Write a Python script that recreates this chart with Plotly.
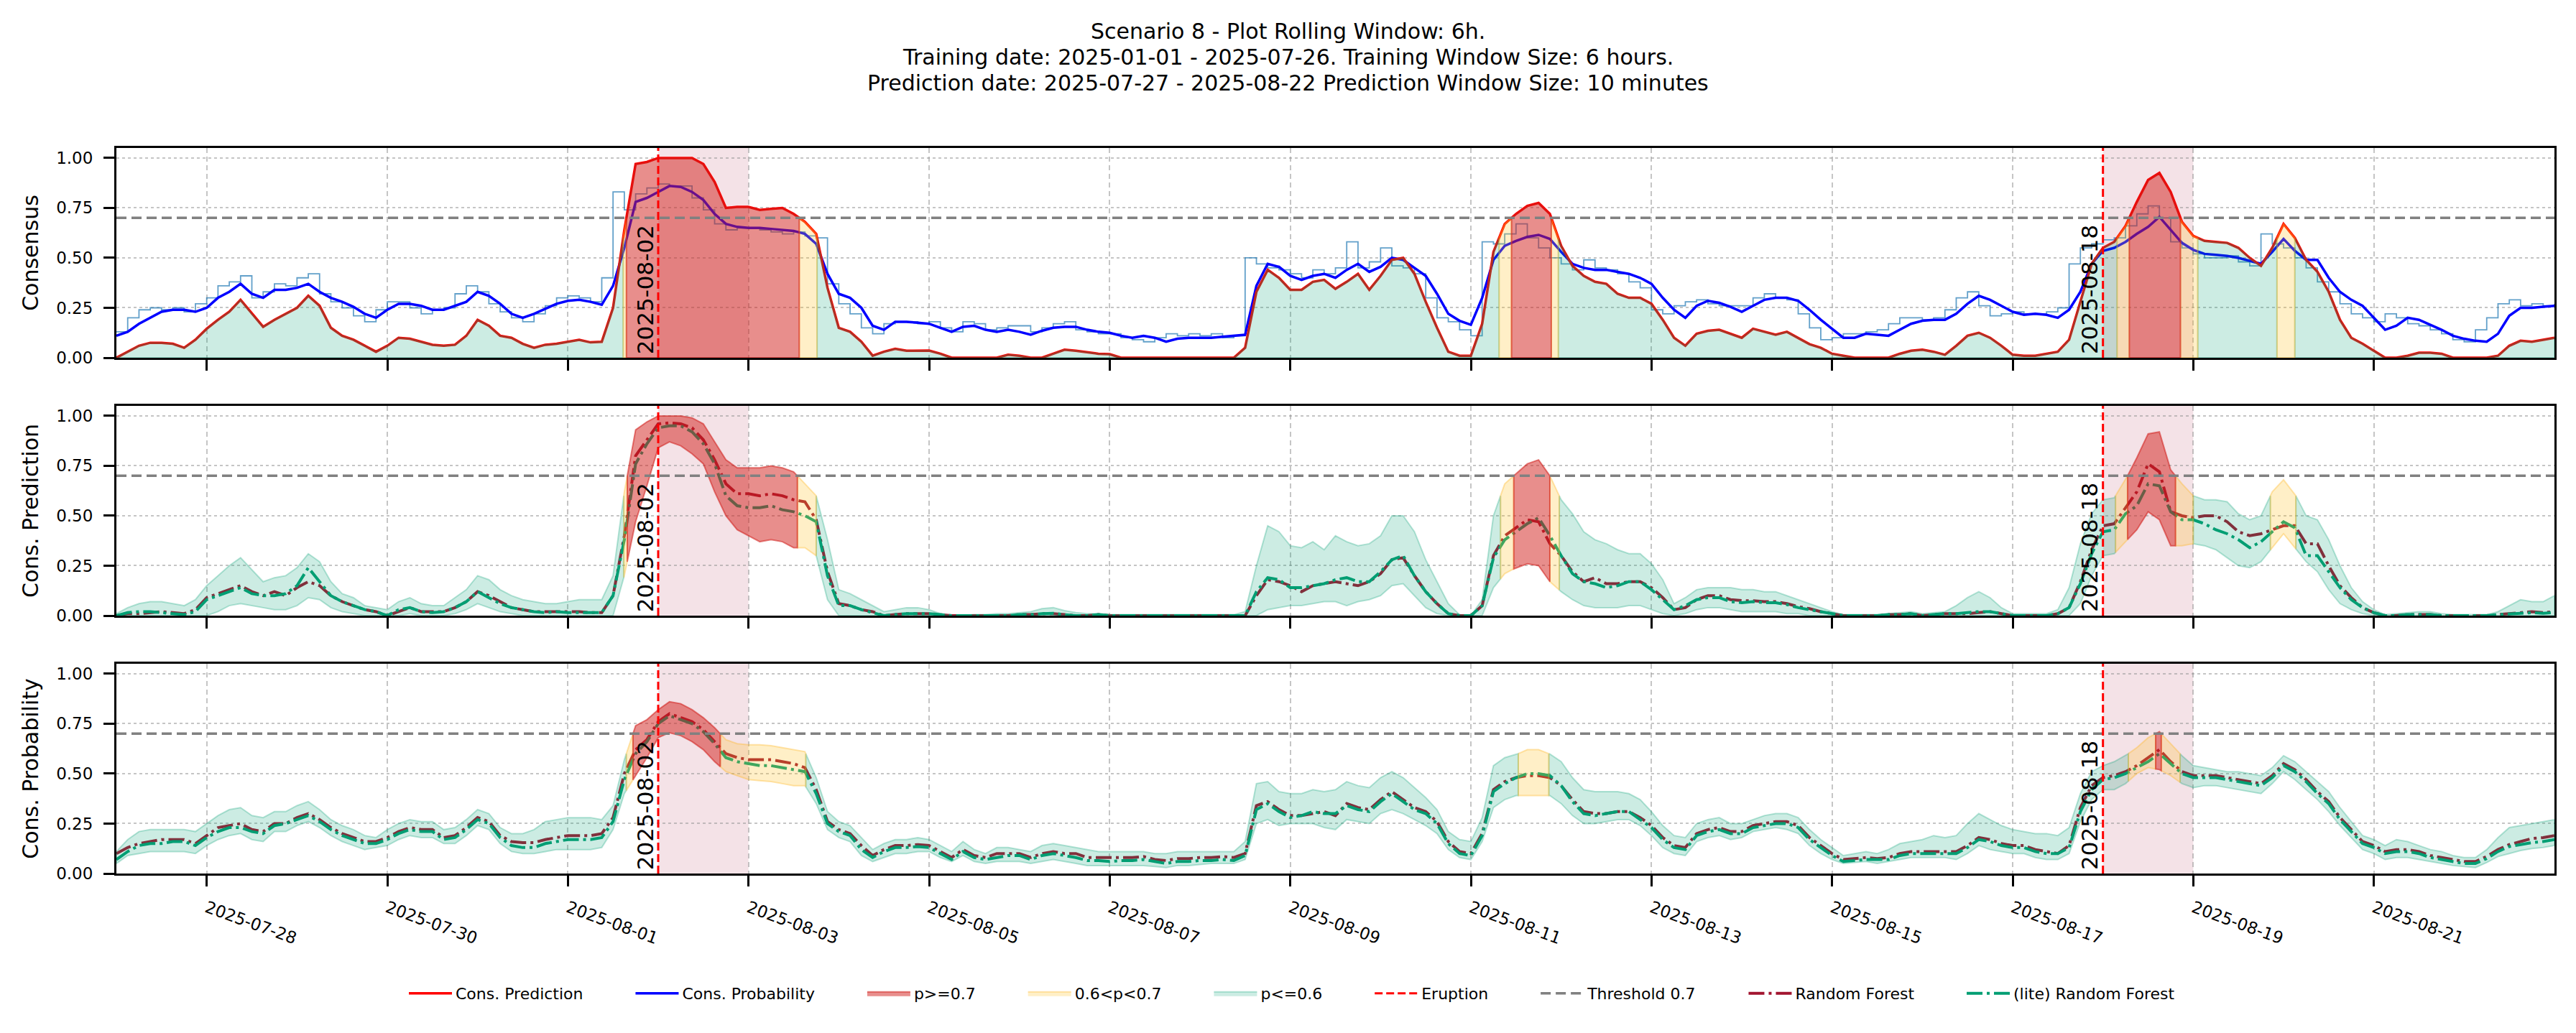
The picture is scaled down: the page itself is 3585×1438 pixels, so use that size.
import pandas as pd
import plotly.graph_objects as go
from plotly.subplots import make_subplots

# ---------------- data ----------------
START = "2025-07-27 00:00"
STEP_HOURS = 3
X_END = "2025-08-23 00:00"
ERUPTIONS = ["2025-08-02", "2025-08-18"]
THRESHOLD = 0.7
MID_LEVEL = 0.6
TICK_DATES = ["2025-07-28", "2025-07-30", "2025-08-01", "2025-08-03", "2025-08-05", "2025-08-07",
              "2025-08-09", "2025-08-11", "2025-08-13", "2025-08-15", "2025-08-17", "2025-08-19", "2025-08-21"]
Y_TICKS = [0.0, 0.25, 0.5, 0.75, 1.0]
Y_TITLES = ["Consensus", "Cons. Prediction", "Cons. Probability"]
TITLE_LINES = ["Scenario 8 - Plot Rolling Window: 6h.",
               "Training date: 2025-01-01 - 2025-07-26. Training Window Size: 6 hours.",
               "Prediction date: 2025-07-27 - 2025-08-22 Prediction Window Size: 10 minutes"]

# Panel 1 (3-hourly samples, one row per day)
cons_pred = [
    0.0, 0.03, 0.06, 0.075, 0.075, 0.07, 0.05, 0.09,
    0.145, 0.19, 0.23, 0.29, 0.22, 0.155, 0.19, 0.22,
    0.25, 0.31, 0.26, 0.15, 0.11, 0.09, 0.06, 0.03,
    0.06, 0.10, 0.095, 0.08, 0.065, 0.06, 0.065, 0.11,
    0.19, 0.16, 0.11, 0.10, 0.07, 0.05, 0.065, 0.07,
    0.08, 0.09, 0.077, 0.08, 0.25, 0.64, 0.97, 0.98,
    1.0, 1.0, 1.0, 1.0, 0.97, 0.88, 0.75, 0.755,
    0.755, 0.74, 0.745, 0.75, 0.72, 0.68, 0.62, 0.35,
    0.15, 0.13, 0.08, 0.01, 0.03, 0.045, 0.035, 0.035,
    0.036, 0.02, 0.0, 0.0, 0.0, 0.0, 0.0, 0.015,
    0.01, 0.0, 0.0, 0.02, 0.04, 0.035, 0.027, 0.02,
    0.018, 0.0, 0.0, 0.0, 0.0, 0.0, 0.0, 0.0,
    0.0, 0.0, 0.0, 0.0, 0.05, 0.33, 0.44, 0.40,
    0.34, 0.34, 0.38, 0.39, 0.345, 0.38, 0.42, 0.34,
    0.41, 0.49, 0.50, 0.42, 0.28, 0.15, 0.03, 0.01,
    0.01, 0.17, 0.53, 0.67, 0.72, 0.76, 0.775, 0.72,
    0.56, 0.46, 0.41, 0.38, 0.37, 0.32, 0.30, 0.30,
    0.27, 0.19, 0.10, 0.06, 0.12, 0.135, 0.14, 0.12,
    0.10, 0.145, 0.13, 0.115, 0.13, 0.10, 0.068, 0.05,
    0.02, 0.01, 0.0, 0.0, 0.0, 0.0, 0.02, 0.035,
    0.04, 0.03, 0.015, 0.06, 0.11, 0.125, 0.10, 0.06,
    0.015, 0.01, 0.01, 0.02, 0.03, 0.09, 0.28, 0.47,
    0.55, 0.58, 0.66, 0.78, 0.89, 0.925, 0.83, 0.68,
    0.61, 0.585, 0.58, 0.575, 0.55, 0.50, 0.46, 0.55,
    0.67, 0.60, 0.49, 0.43, 0.33, 0.19, 0.10, 0.07,
    0.035, 0.0, 0.0, 0.01, 0.025, 0.025, 0.02, 0.0,
    0.0, 0.0, 0.0, 0.01, 0.06, 0.085, 0.08, 0.09,
    0.10]

cons_prob = [
    0.11, 0.13, 0.17, 0.20, 0.23, 0.24, 0.24, 0.23,
    0.25, 0.30, 0.33, 0.37, 0.32, 0.30, 0.34, 0.34,
    0.35, 0.37, 0.33, 0.30, 0.28, 0.255, 0.22, 0.20,
    0.24, 0.27, 0.27, 0.26, 0.24, 0.24, 0.26, 0.28,
    0.33, 0.31, 0.27, 0.22, 0.20, 0.22, 0.245, 0.27,
    0.285, 0.29, 0.28, 0.265, 0.36, 0.55, 0.78, 0.80,
    0.83, 0.86, 0.855, 0.83, 0.79, 0.72, 0.67, 0.655,
    0.65, 0.65, 0.645, 0.64, 0.635, 0.62, 0.57, 0.42,
    0.32, 0.30, 0.25, 0.16, 0.14, 0.18, 0.18, 0.175,
    0.17, 0.15, 0.13, 0.155, 0.16, 0.14, 0.13, 0.14,
    0.13, 0.115, 0.135, 0.15, 0.155, 0.155, 0.14, 0.13,
    0.125, 0.11, 0.10, 0.11, 0.10, 0.08, 0.095, 0.10,
    0.10, 0.10, 0.105, 0.11, 0.115, 0.36, 0.47, 0.455,
    0.41, 0.39, 0.41, 0.42, 0.40, 0.44, 0.47, 0.43,
    0.455, 0.50, 0.49, 0.45, 0.41, 0.32, 0.22, 0.185,
    0.165, 0.30, 0.49, 0.56, 0.585, 0.605, 0.615, 0.595,
    0.53, 0.47, 0.45, 0.44, 0.44, 0.43, 0.42, 0.40,
    0.37, 0.30, 0.24, 0.20, 0.26, 0.285, 0.275, 0.255,
    0.23, 0.26, 0.29, 0.30, 0.30, 0.285, 0.24, 0.19,
    0.145, 0.10, 0.10, 0.12, 0.115, 0.11, 0.14, 0.17,
    0.185, 0.19, 0.19, 0.22, 0.27, 0.31, 0.29, 0.26,
    0.23, 0.215, 0.22, 0.215, 0.20, 0.24, 0.33, 0.47,
    0.535, 0.55, 0.58, 0.62, 0.655, 0.705, 0.64, 0.575,
    0.54, 0.52, 0.515, 0.51, 0.50, 0.485, 0.47, 0.53,
    0.595, 0.535, 0.49, 0.49, 0.40, 0.33, 0.29, 0.26,
    0.20, 0.14, 0.16, 0.20, 0.19, 0.165, 0.14, 0.11,
    0.095, 0.085, 0.08, 0.12, 0.21, 0.25, 0.25, 0.255,
    0.26]

cons_raw = [
    0.13, 0.20, 0.24, 0.25, 0.24, 0.25, 0.23, 0.27,
    0.30, 0.36, 0.38, 0.41, 0.30, 0.33, 0.37, 0.36,
    0.40, 0.42, 0.32, 0.28, 0.25, 0.21, 0.18, 0.24,
    0.28, 0.28, 0.25, 0.22, 0.24, 0.25, 0.32, 0.36,
    0.33, 0.27, 0.23, 0.20, 0.18, 0.22, 0.26, 0.30,
    0.31, 0.30, 0.28, 0.40, 0.83, 0.74, 0.82, 0.85,
    0.87, 0.86, 0.86, 0.80, 0.74, 0.67, 0.64, 0.65,
    0.65, 0.64, 0.63, 0.62, 0.63, 0.61, 0.60, 0.37,
    0.27, 0.22, 0.15, 0.12, 0.17, 0.18, 0.18, 0.17,
    0.18, 0.15, 0.13, 0.18, 0.17, 0.14, 0.15, 0.16,
    0.16, 0.13, 0.15, 0.17, 0.18, 0.14, 0.13, 0.12,
    0.12, 0.10, 0.09, 0.08, 0.10, 0.12, 0.11, 0.12,
    0.11, 0.12, 0.10, 0.11, 0.50, 0.47, 0.45, 0.44,
    0.42, 0.40, 0.44, 0.42, 0.45, 0.58, 0.45, 0.48,
    0.55, 0.46, 0.45, 0.42, 0.30, 0.20, 0.18, 0.14,
    0.11, 0.58, 0.57, 0.62, 0.67, 0.60, 0.55, 0.50,
    0.47, 0.44, 0.49, 0.45, 0.44, 0.42, 0.38, 0.35,
    0.24, 0.22, 0.26, 0.28, 0.29, 0.27, 0.26, 0.26,
    0.26, 0.30, 0.32, 0.30, 0.29, 0.22, 0.15, 0.09,
    0.10, 0.12, 0.12, 0.13, 0.14, 0.17, 0.20, 0.20,
    0.19, 0.20, 0.24, 0.30, 0.33, 0.26, 0.21, 0.22,
    0.23, 0.22, 0.22, 0.23, 0.25, 0.47, 0.55, 0.57,
    0.59, 0.60, 0.66, 0.72, 0.76, 0.70, 0.58, 0.55,
    0.52, 0.50, 0.50, 0.51, 0.48, 0.46, 0.62, 0.57,
    0.55, 0.50, 0.45, 0.38, 0.33, 0.27, 0.22, 0.20,
    0.18, 0.22, 0.20, 0.17, 0.16, 0.14, 0.12, 0.09,
    0.08, 0.14, 0.20, 0.27, 0.29, 0.26, 0.27, 0.26,
    0.27]

# Panel 2: predictions
rf_pred = [
    0.0, 0.01, 0.01, 0.015, 0.02, 0.015, 0.01, 0.03,
    0.09, 0.11, 0.13, 0.15, 0.12, 0.10, 0.12, 0.10,
    0.14, 0.17, 0.15, 0.10, 0.07, 0.05, 0.03, 0.02,
    0.0, 0.02, 0.04, 0.02, 0.02, 0.02, 0.04, 0.07,
    0.12, 0.10, 0.07, 0.04, 0.03, 0.02, 0.02, 0.02,
    0.02, 0.02, 0.015, 0.015, 0.10, 0.40, 0.80, 0.88,
    0.96, 0.965, 0.96, 0.94, 0.88, 0.78, 0.66, 0.61,
    0.61, 0.60, 0.61, 0.60, 0.58, 0.57, 0.48, 0.22,
    0.06, 0.05, 0.03, 0.02, 0.0, 0.005, 0.01, 0.01,
    0.01, 0.005, 0.0, 0.0, 0.0, 0.0, 0.0, 0.0,
    0.005, 0.005, 0.01, 0.01, 0.005, 0.0, 0.0, 0.005,
    0.0, 0.0, 0.0, 0.0, 0.0, 0.0, 0.0, 0.0,
    0.0, 0.0, 0.0, 0.0, 0.0, 0.10, 0.18, 0.17,
    0.15, 0.12, 0.15, 0.16, 0.17, 0.16, 0.15, 0.17,
    0.21, 0.28, 0.29, 0.20, 0.12, 0.06, 0.01, 0.0,
    0.0, 0.05, 0.30, 0.40, 0.44, 0.48, 0.47, 0.36,
    0.30, 0.22, 0.17, 0.19, 0.16, 0.16, 0.17, 0.17,
    0.14, 0.09, 0.03, 0.04, 0.08, 0.10, 0.10, 0.08,
    0.075, 0.075, 0.07, 0.07, 0.06, 0.045, 0.035, 0.02,
    0.01, 0.0, 0.0, 0.0, 0.0, 0.005, 0.005, 0.01,
    0.0, 0.005, 0.01, 0.01, 0.01, 0.015, 0.02, 0.01,
    0.0, 0.0, 0.0, 0.0, 0.01, 0.04, 0.17, 0.33,
    0.45, 0.46, 0.54, 0.62, 0.76, 0.72, 0.52, 0.50,
    0.49, 0.50, 0.50, 0.47, 0.42, 0.40, 0.41, 0.43,
    0.45, 0.45, 0.36, 0.36, 0.25, 0.15, 0.09, 0.04,
    0.015, 0.0, 0.0, 0.005, 0.005, 0.005, 0.0, 0.0,
    0.0, 0.0, 0.0, 0.005, 0.01, 0.015, 0.02, 0.015,
    0.02]

lite_pred = [
    0.0, 0.015, 0.02, 0.02, 0.015, 0.01, 0.005, 0.02,
    0.08, 0.10, 0.12, 0.14, 0.11, 0.10, 0.10, 0.11,
    0.15, 0.24, 0.17, 0.10, 0.07, 0.05, 0.03, 0.02,
    0.0, 0.03, 0.04, 0.02, 0.015, 0.02, 0.04, 0.07,
    0.12, 0.09, 0.06, 0.04, 0.03, 0.02, 0.015, 0.02,
    0.015, 0.015, 0.015, 0.015, 0.10, 0.38, 0.76, 0.86,
    0.94, 0.95, 0.95, 0.92, 0.86, 0.76, 0.60, 0.55,
    0.54, 0.54, 0.55, 0.53, 0.52, 0.50, 0.47, 0.20,
    0.05, 0.05, 0.03, 0.015, 0.0, 0.005, 0.01, 0.01,
    0.01, 0.005, 0.0, 0.0, 0.0, 0.0, 0.0, 0.0,
    0.005, 0.005, 0.01, 0.012, 0.005, 0.0, 0.0, 0.005,
    0.0, 0.0, 0.0, 0.0, 0.0, 0.0, 0.0, 0.0,
    0.0, 0.0, 0.0, 0.0, 0.0, 0.12, 0.19, 0.18,
    0.14, 0.14, 0.15, 0.16, 0.18, 0.19, 0.17, 0.17,
    0.22, 0.28, 0.30, 0.20, 0.12, 0.06, 0.01, 0.0,
    0.0, 0.05, 0.29, 0.38, 0.42, 0.46, 0.49, 0.40,
    0.30, 0.21, 0.17, 0.16, 0.14, 0.15, 0.17, 0.17,
    0.13, 0.08, 0.03, 0.05, 0.08, 0.09, 0.09, 0.07,
    0.065, 0.07, 0.065, 0.065, 0.055, 0.04, 0.03, 0.02,
    0.01, 0.0, 0.0, 0.0, 0.0, 0.005, 0.005, 0.01,
    0.0, 0.005, 0.01, 0.01, 0.015, 0.02, 0.02, 0.01,
    0.0, 0.0, 0.0, 0.0, 0.01, 0.04, 0.16, 0.31,
    0.42, 0.43, 0.51, 0.55, 0.66, 0.65, 0.52, 0.48,
    0.48, 0.46, 0.43, 0.41, 0.38, 0.34, 0.37, 0.42,
    0.47, 0.44, 0.30, 0.30, 0.22, 0.14, 0.08, 0.04,
    0.015, 0.0, 0.0, 0.005, 0.005, 0.005, 0.0, 0.0,
    0.0, 0.0, 0.0, 0.005, 0.01, 0.012, 0.015, 0.012,
    0.015]

pred_hi = [
    0.01, 0.04, 0.06, 0.07, 0.07, 0.06, 0.05, 0.08,
    0.15, 0.20, 0.25, 0.29, 0.23, 0.17, 0.19, 0.20,
    0.24, 0.31, 0.27, 0.17, 0.11, 0.09, 0.05, 0.04,
    0.03, 0.07, 0.09, 0.06, 0.05, 0.05, 0.09, 0.13,
    0.20, 0.18, 0.13, 0.10, 0.08, 0.07, 0.06, 0.06,
    0.07, 0.08, 0.08, 0.08, 0.20, 0.62, 0.93, 0.97,
    1.0, 1.0, 1.0, 0.99, 0.96, 0.87, 0.78, 0.74,
    0.74, 0.74, 0.75, 0.74, 0.72, 0.66, 0.60, 0.38,
    0.13, 0.11, 0.08, 0.05, 0.02, 0.03, 0.04, 0.04,
    0.03, 0.01, 0.0, 0.0, 0.005, 0.005, 0.01, 0.01,
    0.015, 0.02, 0.035, 0.04, 0.025, 0.015, 0.01, 0.01,
    0.005, 0.005, 0.005, 0.005, 0.005, 0.005, 0.005, 0.005,
    0.005, 0.005, 0.005, 0.005, 0.02, 0.25, 0.45, 0.42,
    0.35, 0.34, 0.37, 0.33, 0.40, 0.37, 0.35, 0.36,
    0.40, 0.50, 0.50, 0.42, 0.28, 0.17, 0.06, 0.005,
    0.0, 0.08, 0.50, 0.66, 0.71, 0.76, 0.78, 0.70,
    0.58, 0.51, 0.42, 0.38, 0.36, 0.33, 0.31, 0.31,
    0.26, 0.18, 0.06, 0.09, 0.13, 0.14, 0.14, 0.14,
    0.13, 0.13, 0.12, 0.12, 0.10, 0.08, 0.06, 0.04,
    0.02, 0.005, 0.005, 0.005, 0.005, 0.01, 0.015, 0.02,
    0.01, 0.015, 0.02, 0.05, 0.09, 0.12, 0.09, 0.04,
    0.01, 0.01, 0.01, 0.01, 0.03, 0.14, 0.36, 0.51,
    0.58, 0.59, 0.68, 0.79, 0.91, 0.92, 0.73, 0.66,
    0.60, 0.58, 0.58, 0.57, 0.51, 0.48, 0.50, 0.62,
    0.68, 0.61, 0.50, 0.48, 0.38, 0.25, 0.14, 0.07,
    0.03, 0.005, 0.01, 0.015, 0.02, 0.02, 0.01, 0.005,
    0.005, 0.005, 0.005, 0.02, 0.05, 0.08, 0.07, 0.07,
    0.10]

pred_lo = [
    0.0, 0.0, 0.0, 0.0, 0.0, 0.0, 0.0, 0.0,
    0.0, 0.02, 0.05, 0.06, 0.05, 0.04, 0.03, 0.03,
    0.05, 0.09, 0.08, 0.04, 0.02, 0.01, 0.0, 0.0,
    0.0, 0.0, 0.01, 0.0, 0.0, 0.0, 0.01, 0.03,
    0.06, 0.04, 0.02, 0.01, 0.0, 0.0, 0.0, 0.0,
    0.0, 0.0, 0.0, 0.0, 0.0, 0.20, 0.47, 0.65,
    0.84, 0.87, 0.85, 0.81, 0.76, 0.62, 0.50, 0.43,
    0.40, 0.37, 0.38, 0.37, 0.34, 0.34, 0.30, 0.08,
    0.0, 0.0, 0.0, 0.0, 0.0, 0.0, 0.0, 0.0,
    0.0, 0.0, 0.0, 0.0, 0.0, 0.0, 0.0, 0.0,
    0.0, 0.0, 0.0, 0.0, 0.0, 0.0, 0.0, 0.0,
    0.0, 0.0, 0.0, 0.0, 0.0, 0.0, 0.0, 0.0,
    0.0, 0.0, 0.0, 0.0, 0.0, 0.0, 0.03, 0.04,
    0.05, 0.05, 0.06, 0.07, 0.07, 0.05, 0.07, 0.08,
    0.10, 0.15, 0.16, 0.10, 0.04, 0.01, 0.0, 0.0,
    0.0, 0.0, 0.14, 0.21, 0.24, 0.26, 0.25, 0.17,
    0.12, 0.08, 0.05, 0.04, 0.04, 0.04, 0.05, 0.05,
    0.03, 0.01, 0.0, 0.01, 0.03, 0.04, 0.04, 0.03,
    0.02, 0.02, 0.02, 0.02, 0.01, 0.01, 0.0, 0.0,
    0.0, 0.0, 0.0, 0.0, 0.0, 0.0, 0.0, 0.0,
    0.0, 0.0, 0.0, 0.0, 0.0, 0.0, 0.0, 0.0,
    0.0, 0.0, 0.0, 0.0, 0.0, 0.0, 0.06, 0.20,
    0.30, 0.31, 0.37, 0.43, 0.52, 0.48, 0.35, 0.35,
    0.36, 0.35, 0.33, 0.29, 0.25, 0.24, 0.27, 0.34,
    0.41, 0.34, 0.27, 0.22, 0.13, 0.06, 0.03, 0.01,
    0.0, 0.0, 0.0, 0.0, 0.0, 0.0, 0.0, 0.0,
    0.0, 0.0, 0.0, 0.0, 0.0, 0.0, 0.0, 0.0,
    0.0]

# Panel 3: probabilities
rf_prob = [
    0.10, 0.13, 0.15, 0.16, 0.17, 0.17, 0.17, 0.15,
    0.19, 0.23, 0.24, 0.25, 0.22, 0.21, 0.25, 0.25,
    0.28, 0.30, 0.27, 0.23, 0.20, 0.18, 0.16, 0.16,
    0.18, 0.21, 0.23, 0.22, 0.22, 0.18, 0.19, 0.23,
    0.28, 0.26, 0.19, 0.16, 0.155, 0.155, 0.17, 0.18,
    0.19, 0.19, 0.19, 0.20, 0.28, 0.50, 0.62, 0.67,
    0.76, 0.80, 0.78, 0.76, 0.72, 0.66, 0.60, 0.58,
    0.57, 0.57, 0.57, 0.56, 0.55, 0.53, 0.42, 0.26,
    0.22, 0.20, 0.14, 0.09, 0.12, 0.14, 0.14, 0.145,
    0.14, 0.11, 0.08, 0.12, 0.09, 0.08, 0.10, 0.10,
    0.10, 0.08, 0.10, 0.11, 0.10, 0.10, 0.08, 0.08,
    0.08, 0.08, 0.08, 0.085, 0.07, 0.065, 0.075, 0.075,
    0.08, 0.08, 0.085, 0.08, 0.10, 0.34, 0.36, 0.32,
    0.29, 0.29, 0.30, 0.31, 0.29, 0.35, 0.33, 0.32,
    0.37, 0.41, 0.37, 0.33, 0.31, 0.26, 0.16, 0.11,
    0.10, 0.20, 0.42, 0.46, 0.48, 0.49, 0.49, 0.48,
    0.44, 0.37, 0.31, 0.30, 0.30, 0.31, 0.31, 0.28,
    0.24, 0.18, 0.14, 0.13, 0.20, 0.22, 0.23, 0.21,
    0.21, 0.24, 0.25, 0.26, 0.26, 0.24, 0.18, 0.14,
    0.10, 0.07, 0.075, 0.08, 0.075, 0.08, 0.10, 0.11,
    0.11, 0.11, 0.11, 0.11, 0.14, 0.18, 0.17, 0.15,
    0.14, 0.14, 0.12, 0.11, 0.10, 0.14, 0.33, 0.44,
    0.48, 0.49, 0.51, 0.54, 0.58, 0.62, 0.56, 0.51,
    0.49, 0.49, 0.49, 0.48, 0.47, 0.46, 0.45, 0.49,
    0.55, 0.52, 0.47, 0.41, 0.36, 0.28, 0.22, 0.16,
    0.14, 0.11, 0.12, 0.12, 0.11, 0.09, 0.08, 0.07,
    0.06, 0.06, 0.085, 0.12, 0.145, 0.16, 0.175, 0.18,
    0.19]

lite_prob = [
    0.07, 0.11, 0.14, 0.15, 0.15, 0.16, 0.16, 0.14,
    0.18, 0.21, 0.23, 0.23, 0.21, 0.20, 0.24, 0.25,
    0.27, 0.29, 0.26, 0.22, 0.19, 0.17, 0.15, 0.15,
    0.17, 0.20, 0.22, 0.21, 0.21, 0.17, 0.18, 0.22,
    0.27, 0.25, 0.18, 0.14, 0.13, 0.13, 0.15, 0.16,
    0.17, 0.17, 0.17, 0.18, 0.26, 0.47, 0.60, 0.66,
    0.75, 0.79, 0.77, 0.75, 0.71, 0.65, 0.58, 0.56,
    0.55, 0.54, 0.54, 0.53, 0.52, 0.51, 0.40, 0.25,
    0.21, 0.19, 0.12, 0.08, 0.11, 0.13, 0.13, 0.135,
    0.13, 0.10, 0.07, 0.11, 0.08, 0.07, 0.08, 0.09,
    0.09, 0.07, 0.09, 0.10, 0.09, 0.08, 0.065, 0.065,
    0.06, 0.065, 0.065, 0.07, 0.06, 0.05, 0.06, 0.06,
    0.065, 0.065, 0.07, 0.065, 0.09, 0.32, 0.35, 0.31,
    0.28, 0.29, 0.31, 0.30, 0.30, 0.34, 0.32, 0.31,
    0.36, 0.40, 0.36, 0.32, 0.30, 0.25, 0.15, 0.10,
    0.09, 0.19, 0.41, 0.45, 0.48, 0.50, 0.50, 0.49,
    0.44, 0.36, 0.30, 0.29, 0.30, 0.31, 0.31, 0.27,
    0.23, 0.17, 0.13, 0.12, 0.19, 0.21, 0.22, 0.20,
    0.20, 0.23, 0.24, 0.25, 0.25, 0.23, 0.17, 0.13,
    0.09, 0.06, 0.065, 0.07, 0.07, 0.07, 0.09, 0.10,
    0.10, 0.10, 0.10, 0.10, 0.13, 0.17, 0.16, 0.14,
    0.13, 0.13, 0.11, 0.10, 0.10, 0.13, 0.31, 0.42,
    0.47, 0.48, 0.50, 0.53, 0.56, 0.60, 0.55, 0.50,
    0.48, 0.48, 0.48, 0.47, 0.46, 0.45, 0.44, 0.48,
    0.54, 0.51, 0.46, 0.40, 0.35, 0.27, 0.21, 0.15,
    0.13, 0.10, 0.11, 0.11, 0.10, 0.08, 0.07, 0.06,
    0.05, 0.05, 0.075, 0.11, 0.135, 0.145, 0.155, 0.16,
    0.17]

prob_hi = [
    0.11, 0.17, 0.21, 0.22, 0.22, 0.22, 0.22, 0.21,
    0.25, 0.29, 0.32, 0.33, 0.29, 0.28, 0.31, 0.31,
    0.34, 0.36, 0.32, 0.27, 0.24, 0.22, 0.19, 0.18,
    0.22, 0.25, 0.27, 0.26, 0.26, 0.22, 0.23, 0.27,
    0.32, 0.30, 0.23, 0.20, 0.20, 0.22, 0.26, 0.27,
    0.28, 0.28, 0.28, 0.27, 0.34, 0.57, 0.74, 0.77,
    0.82, 0.86, 0.85, 0.82, 0.78, 0.73, 0.67, 0.65,
    0.645, 0.645, 0.64, 0.63, 0.62, 0.61, 0.48, 0.31,
    0.26, 0.24, 0.18, 0.12, 0.15, 0.17, 0.17, 0.18,
    0.17, 0.14, 0.11, 0.16, 0.12, 0.10, 0.13, 0.13,
    0.12, 0.11, 0.14, 0.15, 0.14, 0.13, 0.12, 0.11,
    0.11, 0.11, 0.11, 0.11, 0.10, 0.10, 0.11, 0.11,
    0.11, 0.11, 0.11, 0.11, 0.16, 0.45, 0.46, 0.41,
    0.40, 0.40, 0.42, 0.41, 0.42, 0.46, 0.44, 0.43,
    0.48, 0.51, 0.48, 0.43, 0.38, 0.32, 0.21, 0.17,
    0.16, 0.28, 0.54, 0.58, 0.595, 0.62, 0.62, 0.598,
    0.56, 0.48, 0.42, 0.41, 0.41, 0.41, 0.40, 0.37,
    0.31, 0.24, 0.19, 0.18, 0.25, 0.27, 0.28, 0.25,
    0.25, 0.27, 0.29, 0.30, 0.30, 0.28, 0.22, 0.17,
    0.13, 0.09, 0.10, 0.11, 0.10, 0.12, 0.15, 0.16,
    0.17, 0.19, 0.18, 0.19, 0.25, 0.30, 0.27, 0.24,
    0.22, 0.21, 0.20, 0.20, 0.19, 0.23, 0.40, 0.51,
    0.54, 0.56, 0.59, 0.63, 0.68, 0.71, 0.65, 0.59,
    0.54, 0.53, 0.52, 0.51, 0.51, 0.50, 0.49, 0.53,
    0.59, 0.56, 0.51, 0.46, 0.41, 0.33, 0.26, 0.19,
    0.17, 0.14, 0.17, 0.16, 0.14, 0.12, 0.11, 0.09,
    0.08, 0.08, 0.12, 0.18, 0.23, 0.24, 0.25, 0.26,
    0.27]

prob_lo = [
    0.05, 0.09, 0.10, 0.11, 0.11, 0.11, 0.11, 0.10,
    0.14, 0.17, 0.19, 0.20, 0.17, 0.16, 0.21, 0.21,
    0.24, 0.26, 0.23, 0.19, 0.16, 0.14, 0.12, 0.13,
    0.14, 0.17, 0.19, 0.18, 0.18, 0.15, 0.15, 0.19,
    0.24, 0.22, 0.15, 0.11, 0.10, 0.10, 0.11, 0.12,
    0.12, 0.12, 0.12, 0.13, 0.22, 0.40, 0.49, 0.58,
    0.68, 0.705, 0.69, 0.66, 0.62, 0.56, 0.51, 0.49,
    0.47, 0.465, 0.46, 0.45, 0.44, 0.44, 0.35, 0.22,
    0.18, 0.16, 0.09, 0.06, 0.08, 0.10, 0.10, 0.11,
    0.11, 0.08, 0.06, 0.09, 0.06, 0.05, 0.06, 0.06,
    0.06, 0.05, 0.06, 0.07, 0.06, 0.05, 0.04, 0.04,
    0.04, 0.04, 0.04, 0.04, 0.035, 0.03, 0.04, 0.04,
    0.045, 0.05, 0.05, 0.05, 0.07, 0.25, 0.27, 0.24,
    0.25, 0.25, 0.25, 0.23, 0.22, 0.27, 0.26, 0.25,
    0.30, 0.32, 0.30, 0.27, 0.24, 0.20, 0.12, 0.08,
    0.07, 0.16, 0.33, 0.37, 0.39, 0.39, 0.39, 0.39,
    0.35, 0.29, 0.25, 0.25, 0.26, 0.27, 0.27, 0.24,
    0.19, 0.13, 0.10, 0.09, 0.16, 0.18, 0.19, 0.17,
    0.18, 0.21, 0.22, 0.23, 0.22, 0.20, 0.14, 0.10,
    0.07, 0.05, 0.055, 0.06, 0.05, 0.06, 0.07, 0.08,
    0.08, 0.08, 0.08, 0.07, 0.10, 0.14, 0.12, 0.11,
    0.10, 0.10, 0.08, 0.07, 0.07, 0.10, 0.26, 0.37,
    0.42, 0.42, 0.45, 0.50, 0.53, 0.52, 0.49, 0.45,
    0.43, 0.44, 0.44, 0.43, 0.42, 0.41, 0.40, 0.45,
    0.51, 0.47, 0.42, 0.37, 0.31, 0.24, 0.18, 0.12,
    0.10, 0.07, 0.08, 0.08, 0.07, 0.06, 0.05, 0.04,
    0.035, 0.03, 0.055, 0.085, 0.10, 0.115, 0.125, 0.13,
    0.14]

# ---------------- styling ----------------
FONT = "DejaVu Sans"
C_PRED = "#ff0000"
C_PROB = "#0000ff"
C_RAW = "rgba(31,119,180,0.7)"
C_RF = "#a2142f"
C_LITE = "#009e73"
FILL = {2: ("rgba(210,30,25,0.5)", "rgba(210,30,25,0.55)"),
        1: ("rgba(255,190,30,0.25)", "rgba(255,180,30,0.35)"),
        0: ("rgba(0,158,115,0.2)", "rgba(0,158,115,0.28)")}
FILL_NAMES = {2: "p>=0.7", 1: "0.6<p<0.7", 0: "p<=0.6"}
FILL_RANK = {2: 3, 1: 4, 0: 5}
PAD = "\u00a0" * 9  # spacing after each legend label (matplotlib column spacing)

base = pd.Timestamp(START)
n = len(cons_pred)
days = [i * STEP_HOURS / 24.0 for i in range(n)]


def ts(d):
    return (base + pd.Timedelta(days=d)).strftime("%Y-%m-%d %H:%M:%S")


times = [ts(d) for d in days]


def cls_of(v):
    if v >= THRESHOLD:
        return 2
    if v > MID_LEVEL:
        return 1
    return 0


def band_polygons(upper, lower):
    runs = {0: [], 1: [], 2: []}
    cur, up, lo = None, [], []
    for i in range(len(days) - 1):
        t0, t1 = days[i], days[i + 1]
        u0, u1 = upper[i], upper[i + 1]
        l0, l1 = lower[i], lower[i + 1]
        cuts = [0.0, 1.0]
        for th in (MID_LEVEL, THRESHOLD):
            if (u0 - th) * (u1 - th) < 0:
                cuts.append((th - u0) / (u1 - u0))
        cuts.sort()
        for a, b in zip(cuts[:-1], cuts[1:]):
            if b - a <= 1e-12:
                continue
            m = 0.5 * (a + b)
            c = cls_of(u0 + (u1 - u0) * m)
            pa = (t0 + (t1 - t0) * a, u0 + (u1 - u0) * a, l0 + (l1 - l0) * a)
            pb = (t0 + (t1 - t0) * b, u0 + (u1 - u0) * b, l0 + (l1 - l0) * b)
            if c != cur:
                if cur is not None:
                    runs[cur].append((up, lo))
                cur, up, lo = c, [(pa[0], pa[1])], [(pa[0], pa[2])]
            up.append((pb[0], pb[1]))
            lo.append((pb[0], pb[2]))
    if cur is not None:
        runs[cur].append((up, lo))
    out = {}
    for c, polys in runs.items():
        xs, ys = [], []
        for up, lo in polys:
            pts = up + lo[::-1] + [up[0]]
            xs += [ts(p[0]) for p in pts] + [None]
            ys += [p[1] for p in pts] + [None]
        out[c] = (xs, ys)
    return out


fig = make_subplots(rows=3, cols=1, shared_xaxes=True, vertical_spacing=0.05)

dashdot = "22px,6px,4px,6px"

# ---- panel 1 lines
fig.add_trace(go.Scatter(x=times, y=cons_raw, mode="lines", line=dict(color=C_RAW, width=1.8, shape="hv"),
                         showlegend=False, hoverinfo="skip"), row=1, col=1)
fig.add_trace(go.Scatter(x=times, y=cons_prob, mode="lines", name="Cons. Probability" + PAD,
                         line=dict(color=C_PROB, width=3.5), legendrank=2), row=1, col=1)
fig.add_trace(go.Scatter(x=times, y=cons_pred, mode="lines", name="Cons. Prediction" + PAD,
                         line=dict(color=C_PRED, width=3.5), legendrank=1), row=1, col=1)

# ---- panel 2 & 3 lines
for r, (rf, lite) in zip((2, 3), ((rf_pred, lite_pred), (rf_prob, lite_prob))):
    fig.add_trace(go.Scatter(x=times, y=rf, mode="lines", name="Random Forest" + PAD,
                             line=dict(color=C_RF, width=4, dash=dashdot), legendgroup="rf",
                             showlegend=(r == 2), legendrank=8), row=r, col=1)
    fig.add_trace(go.Scatter(x=times, y=lite, mode="lines", name="(lite) Random Forest",
                             line=dict(color=C_LITE, width=4, dash=dashdot), legendgroup="lite",
                             showlegend=(r == 2), legendrank=9), row=r, col=1)

# ---- threshold-coloured fills (drawn over the lines)
zeros = [0.0] * n
panels = [(1, cons_pred, zeros), (2, pred_hi, pred_lo), (3, prob_hi, prob_lo)]
for r, up, lo in panels:
    polys = band_polygons(up, lo)
    for c in (0, 1, 2):
        xs, ys = polys[c]
        fig.add_trace(go.Scatter(x=xs, y=ys, mode="lines", fill="toself", fillcolor=FILL[c][0],
                                 line=dict(color=FILL[c][1], width=2), name=FILL_NAMES[c] + PAD,
                                 legendgroup="fill%d" % c, showlegend=(r == 1),
                                 legendrank=FILL_RANK[c], hoverinfo="skip"), row=r, col=1)

# ---- threshold & eruption lines
for r in (1, 2, 3):
    fig.add_trace(go.Scatter(x=[START, X_END], y=[THRESHOLD, THRESHOLD], mode="lines",
                             name="Threshold 0.7" + PAD, line=dict(color="#808080", width=3.5, dash="14px,7px"),
                             legendgroup="thr", showlegend=(r == 1), legendrank=7), row=r, col=1)
    ex, ey = [], []
    for e in ERUPTIONS:
        ex += [e, e, None]
        ey += [0, 1.05, None]
    fig.add_trace(go.Scatter(x=ex, y=ey, mode="lines", name="Eruption" + PAD,
                             line=dict(color="#ff0000", width=3, dash="11px,5px"),
                             legendgroup="eru", showlegend=(r == 1), legendrank=6), row=r, col=1)

# ---- eruption windows and labels
shapes = []
annotations = []
yrefs = ["y", "y2", "y3"]
xrefs = ["x", "x2", "x3"]
for i in range(3):
    for e in ERUPTIONS:
        e1 = (pd.Timestamp(e) + pd.Timedelta(days=1)).strftime("%Y-%m-%d")
        shapes.append(dict(type="rect", xref=xrefs[i], yref=yrefs[i] + " domain", x0=e, x1=e1, y0=0, y1=1,
                           fillcolor="rgba(165,20,60,0.12)", line=dict(width=0), layer="below"))
        annotations.append(dict(x=e, y=0.01, xref=xrefs[i], yref=yrefs[i], text=e, textangle=-90,
                                showarrow=False, xanchor="right", yanchor="bottom", xshift=2,
                                font=dict(family=FONT, size=31, color="black")))

# title lines
for txt, ypx in zip(TITLE_LINES, (43, 80, 116)):
    annotations.append(dict(x=(1792.5 - 162) / 3393, y=(1216 - ypx) / 1010, xref="paper", yref="paper",
                            text=txt, showarrow=False, xanchor="center", yanchor="middle",
                            font=dict(family=FONT, size=30, color="black")))

# ---- axes
H = 1010.0
domains = [[(1216 - 498) / H, 1.0], [(1216 - 857) / H, (1216 - 565) / H], [0.0, 292 / H]]
grid_c = "rgba(150,150,150,0.55)"
for i in range(3):
    yk = "yaxis" if i == 0 else "yaxis%d" % (i + 1)
    xk = "xaxis" if i == 0 else "xaxis%d" % (i + 1)
    fig.layout[yk].update(domain=domains[i], range=[0, 1.05], tickvals=Y_TICKS, tickformat=".2f",
                          ticks="outside", ticklen=15, tickwidth=3, tickcolor="black",
                          showline=True, linecolor="black", linewidth=3, mirror=True,
                          showgrid=True, gridcolor=grid_c, gridwidth=1.5, griddash="4px,4px",
                          zeroline=False, ticklabelstandoff=10,
                          tickfont=dict(family=FONT, size=23, color="black"),
                          title=dict(text=Y_TITLES[i], standoff=16, font=dict(family=FONT, size=30, color="black")))
    fig.layout[xk].update(type="date", range=[START, X_END], tickvals=TICK_DATES, tickformat="%Y-%m-%d",
                          ticks="outside", ticklen=15, tickwidth=3, tickcolor="black",
                          showline=True, linecolor="black", linewidth=3, mirror=True,
                          showgrid=True, gridcolor=grid_c, gridwidth=1.5, griddash="7px,5px",
                          zeroline=False, showticklabels=(i == 2), tickangle=20,
                          ticklabelstandoff=8,
                          tickfont=dict(family=FONT, size=23, color="black"))

fig.update_layout(
    width=3585, height=1438,
    margin=dict(l=162, r=30, t=206, b=222, autoexpand=False),
    paper_bgcolor="white", plot_bgcolor="white",
    font=dict(family=FONT, color="black"),
    shapes=shapes, annotations=annotations,
    legend=dict(orientation="h", x=(1798 - 162) / 3393, xanchor="center",
                y=(1216 - 1383) / H, yanchor="middle", itemwidth=60,
                font=dict(family=FONT, size=22, color="black"), bgcolor="rgba(0,0,0,0)",
                traceorder="normal"),
    hovermode=False,
)

fig.write_html("out.html")
